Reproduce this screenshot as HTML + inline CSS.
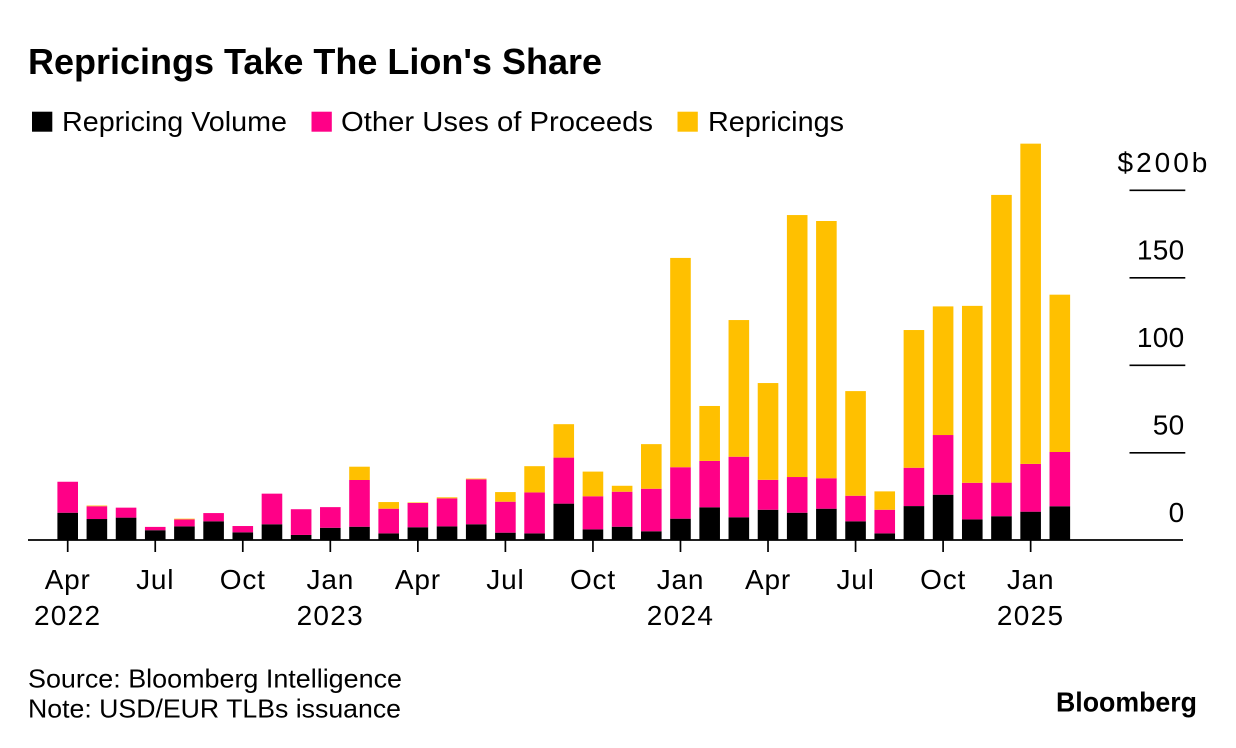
<!DOCTYPE html>
<html lang="en">
<head>
<meta charset="utf-8">
<title>Repricings Take The Lion's Share</title>
<style>
html,body{margin:0;padding:0;background:#fff}
svg{display:block;font-family:"Liberation Sans",Arial,sans-serif;fill:#000}
</style>
</head>
<body>
<svg id="chart" width="1236" height="748" viewBox="0 0 1236 748" xmlns="http://www.w3.org/2000/svg">
  <rect width="1236" height="748" fill="#fff"/>
  <text x="28" y="74" font-size="36.5" font-weight="700" textLength="574" lengthAdjust="spacingAndGlyphs">Repricings Take The Lion's Share</text>
  <g>
    <rect x="32" y="111.7" width="20.3" height="20" fill="#000"/>
    <text x="62" y="131" font-size="27.5" textLength="225" lengthAdjust="spacingAndGlyphs">Repricing Volume</text>
    <rect x="311.5" y="111.7" width="20.3" height="20" fill="#ff0087"/>
    <text x="341" y="131" font-size="27.5" textLength="312" lengthAdjust="spacingAndGlyphs">Other Uses of Proceeds</text>
    <rect x="677.5" y="111.7" width="20.3" height="20" fill="#ffc000"/>
    <text x="708" y="131" font-size="27.5" textLength="136" lengthAdjust="spacingAndGlyphs">Repricings</text>
  </g>
  <g id="bars"></g>
  <g id="y-axis"></g>
  <g id="x-axis"></g>
  <text x="28" y="687.5" font-size="26" textLength="374" lengthAdjust="spacingAndGlyphs">Source: Bloomberg Intelligence</text>
  <text x="28" y="717.7" font-size="26" textLength="373" lengthAdjust="spacingAndGlyphs">Note: USD/EUR TLBs issuance</text>
  <text x="1056" y="711.5" font-size="27.5" font-weight="700" textLength="141" lengthAdjust="spacingAndGlyphs">Bloomberg</text>
</svg>
<script>
const months = ['Apr 2022','May 2022','Jun 2022','Jul 2022','Aug 2022','Sep 2022','Oct 2022','Nov 2022','Dec 2022','Jan 2023','Feb 2023','Mar 2023','Apr 2023','May 2023','Jun 2023','Jul 2023','Aug 2023','Sep 2023','Oct 2023','Nov 2023','Dec 2023','Jan 2024','Feb 2024','Mar 2024','Apr 2024','May 2024','Jun 2024','Jul 2024','Aug 2024','Sep 2024','Oct 2024','Nov 2024','Dec 2024','Jan 2025','Feb 2025'];
const repricingVolume = [15.3,11.7,12.5,5.3,7.5,10.4,4.1,8.7,2.6,6.7,7.3,3.5,7.0,7.5,8.7,3.9,3.5,20.5,5.8,7.3,4.7,11.9,18.4,12.7,17.0,15.3,17.6,10.4,3.5,19.1,25.6,11.5,13.3,15.9,19.0];
const otherUses = [17.7,7.3,5.7,1.9,4.0,4.7,3.6,17.5,14.7,11.8,26.7,14.1,13.9,16.0,25.7,17.7,23.4,26.3,18.9,20.0,24.3,29.4,26.5,34.6,17.1,20.4,17.4,14.6,13.5,21.9,34.1,20.9,19.2,27.3,31.0];
const repricings = [0,0.4,0,0,0.4,0,0,0,0,0,7.6,3.8,0.3,0.6,0.4,5.5,15.0,19.1,14.1,3.4,25.5,119.6,31.4,78.1,55.3,149.7,147.0,59.8,10.5,78.7,73.5,101.1,164.4,183.0,89.9];
const yTicks = [0,50,100,150,200];
const xTickMonths = ['Apr','Jul','Oct','Jan'];
const xYearTicks = ['Apr 2022','Jan 2023','Jan 2024','Jan 2025'];

const NS = 'http://www.w3.org/2000/svg';
const yScale = v => 539.5 - v * 1.75;
const xScale = i => 67.7 + i * 29.18;
const barW = 20.6;

function make(tag, attrs, parent, text) {
  const el = document.createElementNS(NS, tag);
  for (const k in attrs) el.setAttribute(k, attrs[k]);
  if (text !== undefined) el.textContent = text;
  parent.appendChild(el);
  return el;
}

const barsG = document.getElementById('bars');
months.forEach((m, i) => {
  const base = repricingVolume[i];
  const mid = base + otherUses[i];
  const top = mid + repricings[i];
  const slug = m.toLowerCase().replace(' ', '-');
  const x = xScale(i) - barW / 2;

  const b1 = make('rect', {x: x, y: yScale(base), width: barW, height: yScale(0) - yScale(base), fill: '#000'}, barsG);
  
  

  const b2 = make('rect', {x: x, y: yScale(mid), width: barW, height: yScale(base) - yScale(mid), fill: '#ff0087'}, barsG);
  
  

  const b3 = make('rect', {x: x, y: yScale(top), width: barW, height: yScale(mid) - yScale(top), fill: '#ffc000'}, barsG);
  
  
});

const yG = document.getElementById('y-axis');
yTicks.forEach(t => {
  if (t > 0) {
    const ln = make('line', {x1: 1129.5, x2: 1185.3, y1: yScale(t) + 0.8, y2: yScale(t) + 0.8, stroke: '#000', 'stroke-width': 1.7}, yG);
    
    
  }
  const isTop = t === yTicks[yTicks.length - 1];
  const lab = make('text', {
    x: isTop ? 1117.5 : 1184.5,
    y: yScale(t) - 17.5,
    'font-size': 28,
    'letter-spacing': isTop ? 3 : 0.3,
    'text-anchor': isTop ? 'start' : 'end'
  }, yG, isTop ? '$' + t + 'b' : String(t));
  
  
});

const xG = document.getElementById('x-axis');
months.forEach((m, i) => {
  const parts = m.split(' ');
  if (xTickMonths.indexOf(parts[0]) < 0) return;
  const tick = make('line', {x1: xScale(i), x2: xScale(i), y1: 540, y2: 552, stroke: '#000', 'stroke-width': 1.7}, xG);
  
  
  const lab = make('text', {x: xScale(i), y: 589, 'font-size': 28, 'letter-spacing': 0.8, 'text-anchor': 'middle'}, xG, parts[0]);
  
  
  if (xYearTicks.indexOf(m) >= 0) {
    const yr = make('text', {x: xScale(i), y: 625, 'font-size': 28, 'letter-spacing': 1.3, 'text-anchor': 'middle'}, xG, parts[1]);
    
    
  }
});
const baseline = make('line', {x1: 28, x2: 1183, y1: 540, y2: 540, stroke: '#000', 'stroke-width': 1.8}, xG);


</script>
</body>
</html>
